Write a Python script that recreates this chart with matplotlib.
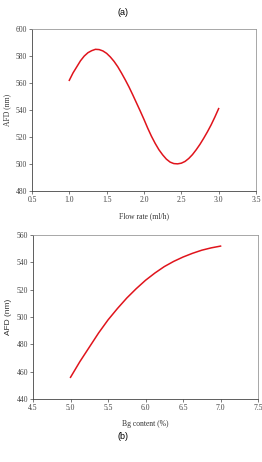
import matplotlib.pyplot as plt

# panel (a): AFD vs flow rate (every 0.05 ml/h)
flow = [1.00, 1.05, 1.10, 1.15, 1.20, 1.25, 1.30, 1.35, 1.40, 1.45, 1.50,
        1.55, 1.60, 1.65, 1.70, 1.75, 1.80, 1.85, 1.90, 1.95, 2.00,
        2.05, 2.10, 2.15, 2.20, 2.25, 2.30, 2.35, 2.40, 2.45, 2.50,
        2.55, 2.60, 2.65, 2.70, 2.75, 2.80, 2.85, 2.90, 2.95, 3.00]
afd_a = [562, 567.5, 572, 576.5, 580, 582.5, 584, 585, 584.8, 583.8, 582,
         579.3, 576, 572, 567.3, 562.3, 557, 551.2, 545.2, 539.2, 533,
         526.5, 520.5, 515.2, 510.5, 506.7, 503.5, 501.3, 500.2, 500, 500.5,
         501.8, 504, 506.9, 510.5, 514.5, 519, 523.8, 529, 534.8, 541]

# panel (b): AFD vs Bg content
bg = [5.0, 5.125, 5.25, 5.375, 5.5, 5.625, 5.75, 5.875, 6.0,
      6.125, 6.25, 6.375, 6.5, 6.625, 6.75, 6.875, 7.0]
afd_b = [456, 467.5, 478, 488.5, 498, 506.3, 514, 520.8, 527,
         532.3, 537, 540.8, 544, 546.7, 549, 550.7, 552]

serif = 'Liberation Serif'
sans = 'Liberation Sans'

fig = plt.figure(figsize=(2.62, 4.62), dpi=100)
ax1 = fig.add_axes([0.122, 0.587, 0.855, 0.350])
ax2 = fig.add_axes([0.126, 0.136, 0.859, 0.355])


def style(ax):
    for s in ['top', 'right']:
        ax.spines[s].set_color('#999999')
    for s in ['left', 'bottom']:
        ax.spines[s].set_color('#444444')
    for s in ax.spines.values():
        s.set_linewidth(0.6)
    ax.tick_params(direction='out', length=2, width=0.5, pad=1.5,
                   labelsize=5.5, colors='#444444')
    for lab in ax.get_xticklabels() + ax.get_yticklabels():
        lab.set_fontfamily(serif)


ax1.plot(flow, afd_a, color='#e0141c', lw=1.1)
ax1.set_xlim(0.5, 3.5)
ax1.set_ylim(480, 600)
ax1.set_xticks([0.5, 1.0, 1.5, 2.0, 2.5, 3.0, 3.5])
ax1.set_yticks(range(480, 601, 20))
style(ax1)
ax1.set_xlabel('Flow rate (ml/h)', fontsize=5.5, family=serif, color='#333333', labelpad=6)
ax1.set_ylabel('AFD (nm)', fontsize=5.5, family=serif, color='#333333', labelpad=3)
fig.text(0.47, 0.974, '(a)', fontsize=6.5, family=sans, ha='center', va='center')

ax2.plot(bg, afd_b, color='#e0141c', lw=1.1)
ax2.set_xlim(4.5, 7.5)
ax2.set_ylim(440, 560)
ax2.set_xticks([4.5, 5.0, 5.5, 6.0, 6.5, 7.0, 7.5])
ax2.set_yticks(range(440, 561, 20))
style(ax2)
ax2.set_xlabel('Bg content (%)', fontsize=5.5, family=serif, color='#333333', labelpad=6)
ax2.set_ylabel('AFD (nm)', fontsize=6, family=sans, color='#333333', labelpad=3)
fig.text(0.47, 0.056, '(b)', fontsize=6.5, family=sans, ha='center', va='center')

fig.savefig('out.png', dpi=100)
